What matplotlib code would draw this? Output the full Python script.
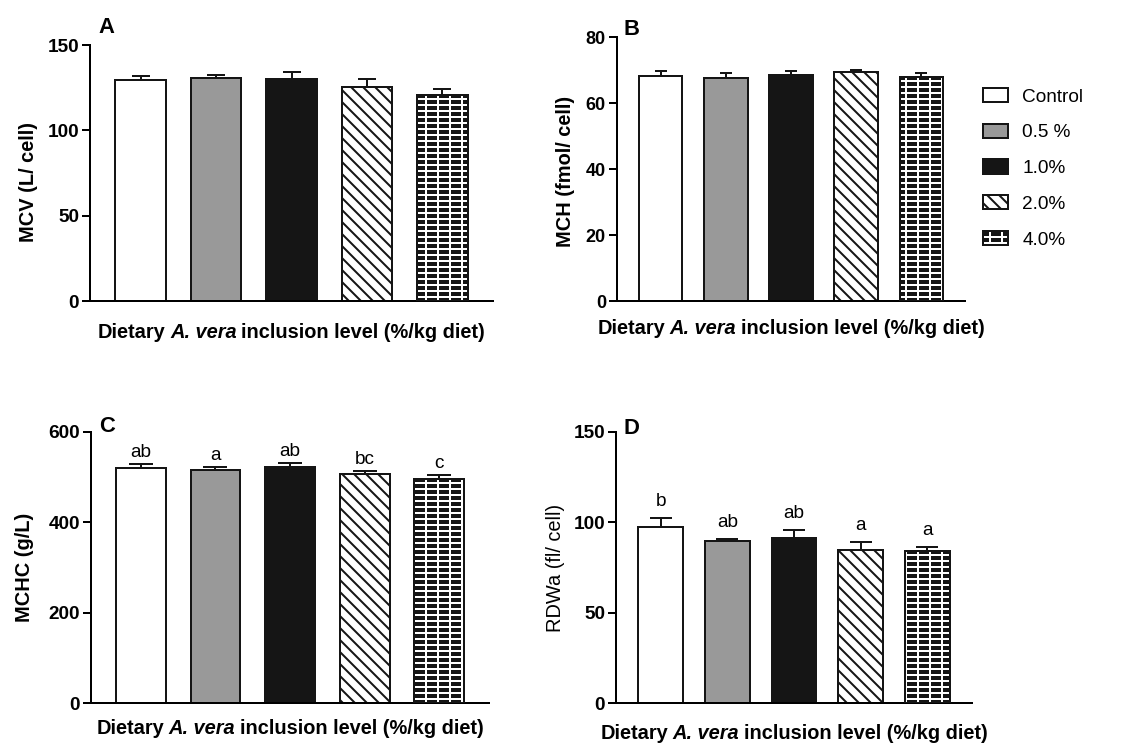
import numpy as np
import matplotlib
matplotlib.use('Agg')
import matplotlib.pyplot as plt
from matplotlib.patches import Patch
from matplotlib.offsetbox import TextArea, HPacker, AnchoredOffsetbox

# data
groups = ['Control', '0.5 %', '1.0%', '2.0%', '4.0%']

mcv = [129.5, 130.5, 130.1, 125.2, 120.5]
mcv_err = [2.1, 1.9, 4.3, 5.1, 3.9]

mch = [68.1, 67.7, 68.5, 69.5, 67.8]
mch_err = [1.7, 1.4, 1.3, 0.6, 1.2]

mchc = [520, 515, 522, 508, 496]
mchc_err = [10, 7, 10, 5, 9]
mchc_letters = ['ab', 'a', 'ab', 'bc', 'c']

rdwa = [97.4, 89.5, 91.1, 84.7, 83.9]
rdwa_err = [5.2, 1.5, 4.7, 4.4, 2.4]
rdwa_letters = ['b', 'ab', 'ab', 'a', 'a']

W, H = 1145, 743
DPI = 72
plt.rcParams['font.family'] = ['Liberation Sans', 'DejaVu Sans']
plt.rcParams['hatch.linewidth'] = 2.0

fig = plt.figure(figsize=(W / DPI, H / DPI), dpi=DPI)

def px_axes(left, top, right, bottom):
    return fig.add_axes([left / W, 1 - bottom / H, (right - left) / W, (bottom - top) / H])

faces = ['white', '#999999', '#151515', 'white', '#151515']
hatches = [None, None, None, '\\\\', '--|']
x = np.arange(len(groups))
bw = 0.67

def x_label(ax, ypos):
    # mixed bold / bold-italic label built from pieces
    tp = dict(fontsize=20, fontweight='bold')
    parts = [TextArea('Dietary', textprops=tp),
             TextArea('A. vera', textprops=dict(tp, style='italic')),
             TextArea('inclusion level (%/kg diet)', textprops=tp)]
    box = HPacker(children=parts, align='baseline', pad=0, sep=4.5)
    anc = AnchoredOffsetbox(loc='center', child=box, pad=0, borderpad=0, frameon=False,
                            bbox_to_anchor=(0.5, ypos), bbox_transform=ax.transAxes)
    ax.add_artist(anc)

def draw_panel(ax, vals, errs, ymax, yticks, ylabel, letter, capsize,
               tick_fs, letter_dy, xl_y, ylabel_bold=True, sig=None, sig_dy=4):
    for i in range(len(groups)):
        if hatches[i] == '--|':
            # brick-like texture: white hatch on black, then outline on top
            ax.bar(x[i], vals[i], bw, color=faces[i], edgecolor='white',
                   hatch=hatches[i], linewidth=0, zorder=2)
            ax.bar(x[i], vals[i], bw, fill=False, edgecolor='#151515',
                   linewidth=2, zorder=3)
        else:
            ax.bar(x[i], vals[i], bw, color=faces[i], edgecolor='#151515',
                   hatch=hatches[i], linewidth=2, zorder=2)
    ax.errorbar(x, vals, yerr=[np.zeros(len(errs)), errs], fmt='none',
                ecolor='#151515', elinewidth=2, capsize=capsize, capthick=2, zorder=4)
    ax.set_xlim(-0.67, 4.67)
    ax.set_ylim(0, ymax)
    ax.set_yticks(yticks)
    ax.set_xticks([])
    ax.spines['top'].set_visible(False)
    ax.spines['right'].set_visible(False)
    ax.spines['left'].set_linewidth(2)
    ax.spines['bottom'].set_linewidth(2)
    ax.tick_params(axis='y', length=8, width=2, pad=3, labelsize=tick_fs)
    for t in ax.get_yticklabels():
        t.set_fontweight('bold')
    ax.set_ylabel(ylabel, fontsize=20, fontweight='bold' if ylabel_bold else 'normal')
    x_label(ax, xl_y)
    ax.text(0.02, 1 + letter_dy, letter, transform=ax.transAxes, fontsize=22,
            fontweight='bold', ha='left', va='baseline')
    if sig is not None:
        for i, s in enumerate(sig):
            ax.annotate(s, (x[i], vals[i] + errs[i]), xytext=(0, sig_dy),
                        textcoords='offset points', ha='center', va='bottom', fontsize=19)

axA = px_axes(90, 45, 493, 301)
draw_panel(axA, mcv, mcv_err, 150, [0, 50, 100, 150], 'MCV (L/ cell)', 'A', 9, 19, 0.047, -0.125)
axA.yaxis.set_label_coords(-0.13, 0.465)

axB = px_axes(617, 37, 965, 301)
draw_panel(axB, mch, mch_err, 80, [0, 20, 40, 60, 80], 'MCH (fmol/ cell)', 'B', 6, 18, 0.008, -0.105)
axB.yaxis.set_label_coords(-0.12, 0.49)

axC = px_axes(91, 432, 489, 703)
draw_panel(axC, mchc, mchc_err, 600, [0, 200, 400, 600], 'MCHC (g/L)', 'C', 12, 19, 0.0, -0.095,
           sig=mchc_letters, sig_dy=3)
axC.yaxis.set_label_coords(-0.143, 0.5)

axD = px_axes(616, 432, 972, 703)
draw_panel(axD, rdwa, rdwa_err, 150, [0, 50, 100, 150], 'RDWa (fl/ cell)', 'D', 11, 19, -0.007, -0.113,
           ylabel_bold=False, sig=rdwa_letters, sig_dy=8)
axD.yaxis.set_label_coords(-0.143, 0.5)

# legend
handles = []
for i in range(len(groups)):
    if hatches[i] == '--|':
        h = (Patch(facecolor=faces[i], edgecolor='white', hatch=hatches[i], linewidth=0),
             Patch(fill=False, edgecolor='#151515', linewidth=2))
    else:
        h = Patch(facecolor=faces[i], edgecolor='#151515', hatch=hatches[i], linewidth=2)
    handles.append(h)
fig.legend(handles, groups, loc='upper left', bbox_to_anchor=(983 / W, 1 - 88 / H),
           frameon=False, fontsize=19, handlelength=1.32, handleheight=0.79,
           handletextpad=0.74, labelspacing=0.94, borderaxespad=0, borderpad=0)

fig.savefig('out.png', dpi=DPI)
